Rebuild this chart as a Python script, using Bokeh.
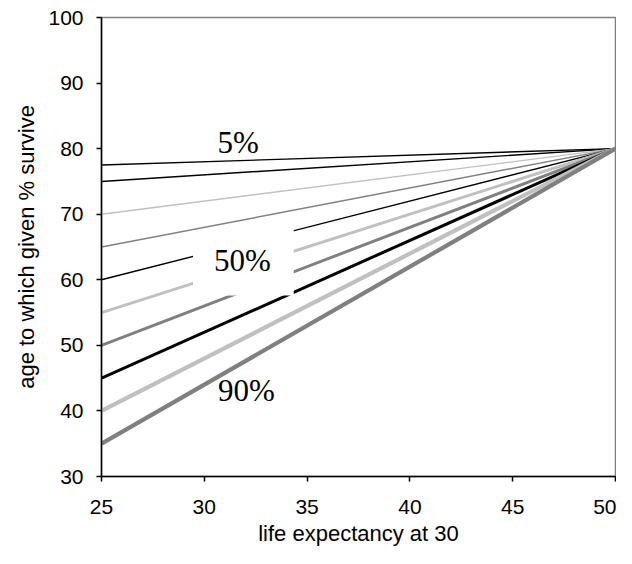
from bokeh.plotting import figure
from bokeh.models import Range1d, FixedTicker, Label
from bokeh.embed import file_html
from bokeh.resources import INLINE

# ---- data ----
life_expectancy = [25, 50]
start_ages = [77.5, 75, 70, 65, 60, 55, 50, 45, 40, 35]   # age at life expectancy 25
end_age = 80                                              # all converge at life expectancy 50
x_ticks = [25, 30, 35, 40, 45, 50]
y_ticks = [30, 40, 50, 60, 70, 80, 90, 100]
curve_labels = ["5%", "50%", "90%"]

# ---- styles ----
BLACK, GRAY, LIGHT = "#000000", "#808080", "#C0C0C0"
colors = [BLACK, BLACK, LIGHT, GRAY, BLACK, LIGHT, GRAY, BLACK, LIGHT, GRAY]
widths = [1.4, 1.4, 1.4, 1.4, 1.4, 3, 3, 3, 4.2, 4.2]

p = figure(width=616, height=548, output_backend="svg", toolbar_location=None,
           x_range=Range1d(25, 50), y_range=Range1d(30, 100),
           min_border_left=101, min_border_right=1, min_border_top=17, min_border_bottom=71)

p.xgrid.visible = False
p.ygrid.visible = False
p.outline_line_color = GRAY
p.outline_line_width = 1.5
p.background_fill_color = "white"

for s, c, w in zip(start_ages, colors, widths):
    p.line(life_expectancy, [s, end_age], line_color=c, line_width=w)

# white text box behind the 50% label
p.quad(left=[29.45], right=[34.35], bottom=[57.6], top=[67.6],
       fill_color="white", line_color=None)

label_pos = [(31.65, 80.9), (31.85, 63.0), (32.05, 43.1)]
for t, (lx, ly) in zip(curve_labels, label_pos):
    p.add_layout(Label(x=lx, y=ly, text=t, text_align="center", text_baseline="middle",
                       text_font="Liberation Serif", text_font_size="31px", text_color="black"))

for ax, ticks in ((p.xaxis, x_ticks), (p.yaxis, y_ticks)):
    ax.ticker = FixedTicker(ticks=ticks)
    ax.major_tick_out = 5
    ax.major_tick_in = 0
    ax.minor_tick_out = 0
    ax.minor_tick_in = 0
    ax.axis_line_color = "black"
    ax.axis_line_width = 1.5
    ax.major_tick_line_color = "black"
    ax.major_tick_line_width = 1.5
    ax.major_label_text_font = "Liberation Sans"
    ax.major_label_text_font_size = "21px"
    ax.major_label_text_color = "black"
    ax.axis_label_text_font = "Liberation Sans"
    ax.axis_label_text_font_size = "22px"
    ax.axis_label_text_font_style = "normal"
    ax.axis_label_text_color = "black"

p.xaxis.axis_label = "life expectancy at 30"
p.yaxis.axis_label = "age to which given % survive"
p.xaxis.major_label_standoff = 18
p.yaxis.major_label_standoff = 13
p.xaxis.axis_label_standoff = 4
p.yaxis.axis_label_standoff = 6

open("out.html", "w").write(file_html(p, INLINE))
